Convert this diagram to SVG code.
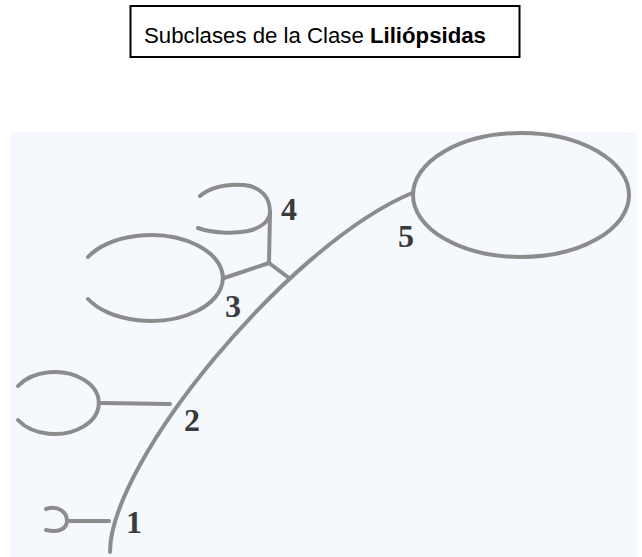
<svg xmlns="http://www.w3.org/2000/svg" width="642" height="557" viewBox="0 0 642 557">
  <style>
    .ln { fill: none; stroke: #8c8c8c; stroke-width: 4; stroke-linecap: round; stroke-linejoin: round; }
    .num { font-family: "Liberation Serif", "Times New Roman", serif; font-weight: bold; font-size: 32px; fill: #3a3a3a; text-anchor: middle; }
    .title { font-family: "Liberation Sans", Arial, sans-serif; font-size: 22px; fill: #000; }
  </style>
  <rect x="0" y="0" width="642" height="557" fill="#ffffff"/>
  <g id="title">
    <rect x="130.5" y="6" width="389" height="51" fill="#ffffff" stroke="#000" stroke-width="2"/>
    <text class="title" x="144" y="43" textLength="342" lengthAdjust="spacingAndGlyphs">Subclases de la Clase <tspan font-weight="bold">Liliópsidas</tspan></text>
  </g>
  <rect id="background" x="10" y="132" width="627" height="425" fill="#f5f9fd"/>
  <g id="connectors">
    <path class="ln" d="M110,552 C110,462 288,245 412,193"/>
    <line class="ln" x1="67" y1="521" x2="109" y2="521"/>
    <line class="ln" x1="101" y1="403" x2="170" y2="404"/>
    <line class="ln" x1="224" y1="278" x2="269" y2="263"/>
    <line class="ln" x1="269" y1="263" x2="289" y2="278"/>
    <line class="ln" x1="270" y1="212" x2="269" y2="263"/>
  </g>
  <g id="node1">
    <path class="ln" d="M46,509 C58,505 67,512 67,521 C67,529 58,533 46,530"/>
    <text class="num" x="134" y="533">1</text>
  </g>
  <g id="node2">
    <path class="ln" d="M18,386 A44,31 0 1 1 18,420"/>
    <text class="num" x="192" y="431">2</text>
  </g>
  <g id="node3">
    <path class="ln" d="M88,257 A72,43 0 1 1 88,299"/>
    <text class="num" x="233" y="317">3</text>
  </g>
  <g id="node4">
    <path class="ln" d="M200,196 C212,186 228,184 244,185 C262,187 270,198 270,212"/>
    <path class="ln" d="M198,228 C212,233 232,234 248,231 C262,228 270,220 270,212"/>
    <text class="num" x="289" y="220">4</text>
  </g>
  <g id="node5">
    <ellipse class="ln" cx="521" cy="195" rx="108" ry="62"/>
    <text class="num" x="406" y="247">5</text>
  </g>
</svg>
